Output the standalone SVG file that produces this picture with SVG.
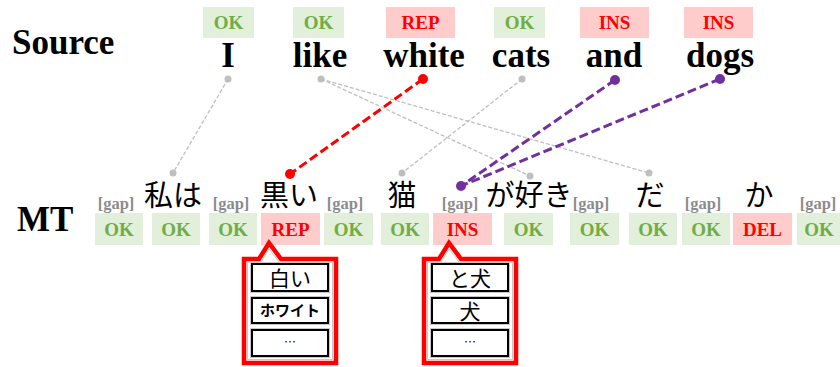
<svg xmlns="http://www.w3.org/2000/svg" width="840" height="367" viewBox="0 0 840 367">
<style>
.hdr{font-family:"Liberation Serif",serif;font-weight:bold;font-size:35px;fill:#000}
.src{font-family:"Liberation Serif",serif;font-weight:bold;font-size:35px;fill:#000;text-anchor:middle}
.jp{font-family:"Noto Sans CJK JP",sans-serif;font-size:29px;fill:#000;text-anchor:middle}
.gap{font-family:"Liberation Serif",serif;font-weight:bold;font-size:16.5px;fill:#8c8c8c;text-anchor:middle}
.ok rect{fill:#e2efda}
.ok text{fill:#70ad47}
.bad rect{fill:#ffcccc}
.bad text{fill:#ff0000}
.lbl text{font-family:"Liberation Serif",serif;font-weight:bold;font-size:19px;text-anchor:middle}
.g{stroke:#bfbfbf;stroke-width:1.3;stroke-dasharray:4 2;fill:none}
.r{stroke:#ff0000;stroke-width:3;stroke-dasharray:9 4;fill:none}
.p{stroke:#7030a0;stroke-width:3;stroke-dasharray:9 4;fill:none}
.gd{fill:#bfbfbf}.rd{fill:#ff0000}.pd{fill:#7030a0}
.co{fill:#fff;stroke:#ff0000;stroke-width:4.5;stroke-linejoin:miter}
.coi{fill:none;stroke:#c8c8c8;stroke-width:1}
.it{fill:#fff;stroke:#000;stroke-width:2}
.its{fill:none;stroke:#c8c8c8;stroke-width:1}
.ct{font-family:"Noto Sans CJK JP",sans-serif;fill:#000;text-anchor:middle}
</style>

<g id="source-header"><text class="hdr" x="12" y="54">Source</text></g>
<g id="mt-header"><text class="hdr" x="17" y="231">MT</text></g>

<g id="src-I"><g class="lbl ok"><rect x="203" y="7" width="51" height="31"/><text x="228.5" y="29">OK</text></g><text class="src" x="228" y="67">I</text></g>
<g id="src-like"><g class="lbl ok"><rect x="293" y="7" width="51" height="31"/><text x="318.5" y="29">OK</text></g><text class="src" x="320" y="67">like</text></g>
<g id="src-white"><g class="lbl bad"><rect x="386" y="7" width="69" height="31"/><text x="420.5" y="29">REP</text></g><text class="src" x="424" y="67">white</text></g>
<g id="src-cats"><g class="lbl ok"><rect x="494" y="7" width="51" height="31"/><text x="519.5" y="29">OK</text></g><text class="src" x="521" y="67">cats</text></g>
<g id="src-and"><g class="lbl bad"><rect x="580" y="7" width="69" height="31"/><text x="614.5" y="29">INS</text></g><text class="src" x="614" y="67">and</text></g>
<g id="src-dogs"><g class="lbl bad"><rect x="684" y="7" width="69" height="31"/><text x="718.5" y="29">INS</text></g><text class="src" x="720" y="67">dogs</text></g>

<g id="connectors">
<line class="g" x1="228" y1="79" x2="173" y2="173"/>
<line class="g" x1="321" y1="79" x2="530" y2="176"/>
<line class="g" x1="321" y1="79" x2="649" y2="173"/>
<line class="g" x1="522" y1="79" x2="402" y2="173"/>
<line class="r" x1="423" y1="79" x2="290" y2="174"/>
<line class="p" x1="615" y1="80" x2="461" y2="186"/>
<line class="p" x1="720" y1="79" x2="461" y2="186"/>
<circle class="gd" cx="228" cy="79" r="3.5"/><circle class="gd" cx="173" cy="173" r="3.5"/>
<circle class="gd" cx="321" cy="79" r="3.5"/><circle class="gd" cx="530" cy="176" r="3.5"/>
<circle class="gd" cx="649" cy="173" r="3.5"/>
<circle class="gd" cx="522" cy="79" r="3.5"/><circle class="gd" cx="402" cy="173" r="3.5"/>
<circle class="rd" cx="423" cy="79" r="5"/><circle class="rd" cx="290" cy="174" r="5"/>
<circle class="pd" cx="615" cy="80" r="5"/><circle class="pd" cx="720" cy="79" r="5"/><circle class="pd" cx="461" cy="186" r="5"/>
</g>

<g id="mt-words">
<text class="gap" x="116" y="209">[gap]</text>
<text class="jp" x="173" y="206">私は</text>
<text class="gap" x="231" y="209">[gap]</text>
<text class="jp" x="289" y="206">黒い</text>
<text class="gap" x="345" y="209">[gap]</text>
<text class="jp" x="402" y="206">猫</text>
<text class="gap" x="460" y="209">[gap]</text>
<text class="jp" x="529" y="206">が好き</text>
<text class="gap" x="591" y="209">[gap]</text>
<text class="jp" x="650" y="206">だ</text>
<text class="gap" x="703" y="209">[gap]</text>
<text class="jp" x="759" y="206">か</text>
<text class="gap" x="818" y="209">[gap]</text>
</g>

<g id="mt-labels">
<g class="lbl ok"><rect x="95" y="213" width="48" height="32"/><text x="119" y="236">OK</text></g>
<g class="lbl ok"><rect x="152" y="213" width="48" height="32"/><text x="176" y="236">OK</text></g>
<g class="lbl ok"><rect x="209" y="213" width="48" height="32"/><text x="233" y="236">OK</text></g>
<g class="lbl bad"><rect x="261" y="213" width="59" height="32"/><text x="290.5" y="236">REP</text></g>
<g class="lbl ok"><rect x="324" y="213" width="49" height="32"/><text x="348.5" y="236">OK</text></g>
<g class="lbl ok"><rect x="381" y="213" width="48" height="32"/><text x="405" y="236">OK</text></g>
<g class="lbl bad"><rect x="433" y="213" width="59" height="32"/><text x="462.5" y="236">INS</text></g>
<g class="lbl ok"><rect x="504" y="213" width="49" height="32"/><text x="528.5" y="236">OK</text></g>
<g class="lbl ok"><rect x="570" y="213" width="49" height="32"/><text x="594.5" y="236">OK</text></g>
<g class="lbl ok"><rect x="629" y="213" width="48" height="32"/><text x="653" y="236">OK</text></g>
<g class="lbl ok"><rect x="682" y="213" width="48" height="32"/><text x="706" y="236">OK</text></g>
<g class="lbl bad"><rect x="733" y="213" width="59" height="32"/><text x="762.5" y="236">DEL</text></g>
<g class="lbl ok"><rect x="797" y="213" width="45" height="32"/><text x="819" y="236">OK</text></g>
</g>

<g id="callout-rep">
<path class="co" d="M244,259 H259 L269,243 L281,259 H336 V363 H244 Z"/>
<path class="coi" d="M247.5,262.5 H260.5 L269,249 L279.5,262.5 H332.5 V359.5 H247.5 Z"/>
<rect class="its" x="250.5" y="262.5" width="79" height="30"/>
<rect class="it" x="252" y="264" width="76" height="27"/>
<text class="ct" x="290" y="286" font-size="21">白い</text>
<rect class="its" x="250.5" y="296.5" width="79" height="28"/>
<rect class="it" x="252" y="298" width="76" height="25"/>
<text class="ct" x="290" y="316" font-size="15" font-weight="bold">ホワイト</text>
<rect class="its" x="250.5" y="328.5" width="79" height="29"/>
<rect class="it" x="252" y="330" width="76" height="26"/>
<text class="ct" x="290" y="347" font-size="12">…</text>
</g>

<g id="callout-ins">
<path class="co" d="M424,259 H439 L449,243 L461,259 H516 V363 H424 Z"/>
<path class="coi" d="M427.5,262.5 H440.5 L449,249 L459.5,262.5 H512.5 V359.5 H427.5 Z"/>
<rect class="its" x="430.5" y="262.5" width="79" height="30"/>
<rect class="it" x="432" y="264" width="76" height="27"/>
<text class="ct" x="470" y="286" font-size="21">と犬</text>
<rect class="its" x="430.5" y="296.5" width="79" height="28"/>
<rect class="it" x="432" y="298" width="76" height="25"/>
<text class="ct" x="470" y="319" font-size="21">犬</text>
<rect class="its" x="430.5" y="328.5" width="79" height="29"/>
<rect class="it" x="432" y="330" width="76" height="26"/>
<text class="ct" x="470" y="347" font-size="12">…</text>
</g>
</svg>
